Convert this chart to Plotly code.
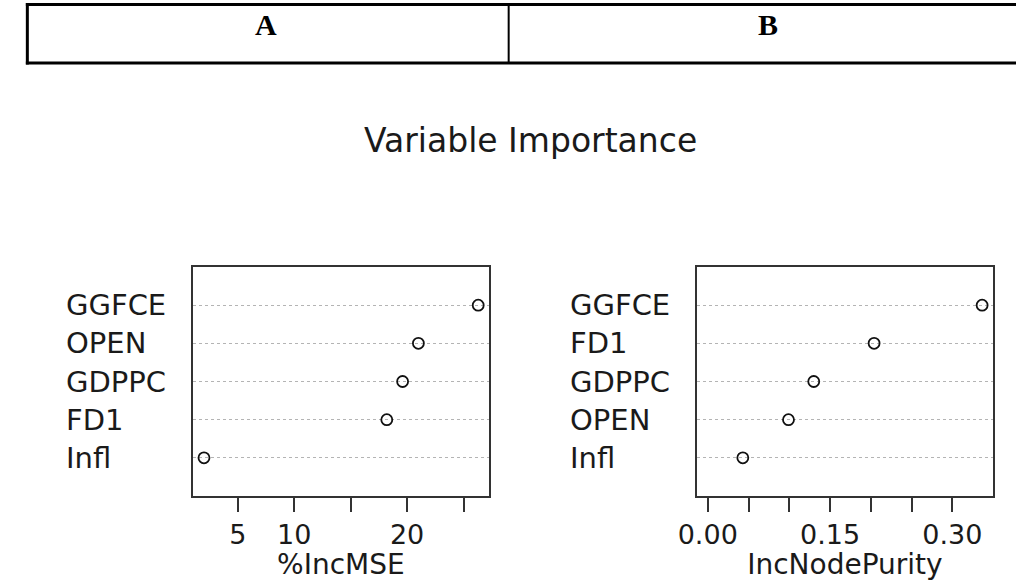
import plotly.graph_objects as go

# ---- data ----
vars_mse = ["Infl", "FD1", "GDPPC", "OPEN", "GGFCE"]
inc_mse = [2.0, 18.2, 19.6, 21.0, 26.3]
vars_purity = ["Infl", "OPEN", "GDPPC", "FD1", "GGFCE"]
inc_purity = [0.043, 0.099, 0.130, 0.204, 0.3365]
mse_ticks = [5, 10, 15, 20, 25]
mse_ticktext = ["5", "10", "", "20", ""]
pur_ticks = [0.00, 0.05, 0.10, 0.15, 0.20, 0.25, 0.30]
pur_ticktext = ["0.00", "", "", "0.15", "", "", "0.30"]
headers = ["A", "B"]

W, H = 1016, 581
def px(x):
    return x / W
def py(y):
    return 1 - y / H

FONT = "DejaVu Sans, Verdana, sans-serif"
TXT = "#1a1a1a"
fig = go.Figure()

rows = [1, 2, 3, 4, 5]
mk = dict(symbol="circle-open", size=11, color="#111", line=dict(width=1.8, color="#111"))
fig.add_trace(go.Scatter(x=inc_mse, y=rows, mode="markers", xaxis="x", yaxis="y",
                         marker=mk, showlegend=False, hoverinfo="skip"))
fig.add_trace(go.Scatter(x=inc_purity, y=rows, mode="markers", xaxis="x2", yaxis="y2",
                         marker=mk, showlegend=False, hoverinfo="skip"))

frame = dict(showline=True, mirror=True, linecolor="#333", linewidth=1.6, zeroline=False)
xtick = dict(ticks="outside", ticklen=14, tickwidth=1.6, tickcolor="#333",
             tickfont=dict(family=FONT, size=27, color=TXT))
ygrid = dict(range=[0, 6], tickmode="array", tickvals=rows, showticklabels=False, ticks="",
             showgrid=True, gridcolor="#b4b4b4", griddash="dot", gridwidth=1.2)

fig.update_layout(
    width=W, height=H, margin=dict(l=0, r=0, t=0, b=0),
    paper_bgcolor="white", plot_bgcolor="white",
    xaxis=dict(domain=[px(177), px(479)], range=[1.0, 27.26], tickmode="array",
               tickvals=mse_ticks, ticktext=mse_ticktext, showgrid=False, anchor="y",
               title=dict(text="%IncMSE", font=dict(family=FONT, size=28, color=TXT), standoff=0),
               **frame, **xtick),
    yaxis=dict(domain=[py(496), py(267)], anchor="x", **ygrid, **frame),
    xaxis2=dict(domain=[px(690.7), px(992.7)], range=[-0.01346, 0.3500], tickmode="array",
                tickvals=pur_ticks, ticktext=pur_ticktext, showgrid=False, anchor="y2",
                title=dict(text="IncNodePurity", font=dict(family=FONT, size=28, color=TXT), standoff=0),
                **frame, **xtick),
    yaxis2=dict(domain=[py(496), py(267)], anchor="x2", **ygrid, **frame),
)

# row labels (left aligned, as in R dotchart)
for name, r in zip(vars_mse, rows):
    fig.add_annotation(x=px(46), xref="paper", y=r, yref="y", text=name, showarrow=False,
                       xanchor="left", font=dict(family=FONT, size=29, color=TXT))
for name, r in zip(vars_purity, rows):
    fig.add_annotation(x=px(559.7), xref="paper", y=r, yref="y2", text=name, showarrow=False,
                       xanchor="left", font=dict(family=FONT, size=29, color=TXT))

# title
fig.add_annotation(x=px(521), y=py(141), xref="paper", yref="paper", text="Variable Importance",
                   showarrow=False, xanchor="center", yanchor="middle",
                   font=dict(family=FONT, size=33, color=TXT))

# header table
fig.add_shape(type="line", xref="paper", yref="paper", x0=px(7), x1=1.0, y0=py(4.5), y1=py(4.5),
              line=dict(color="black", width=3))
fig.add_shape(type="line", xref="paper", yref="paper", x0=px(7), x1=1.0, y0=py(63), y1=py(63),
              line=dict(color="black", width=3))
fig.add_shape(type="line", xref="paper", yref="paper", x0=px(8.5), x1=px(8.5), y0=py(3), y1=py(64.5),
              line=dict(color="black", width=3))
fig.add_shape(type="line", xref="paper", yref="paper", x0=px(499), x1=px(499), y0=py(4), y1=py(63),
              line=dict(color="black", width=2))
for t, cx in zip(headers, [252, 763]):
    fig.add_annotation(x=px(cx), y=py(24), xref="paper", yref="paper", text="<b>%s</b>" % t,
                       showarrow=False, xanchor="center", yanchor="middle",
                       font=dict(family="Liberation Serif, Times New Roman, serif", size=30, color="black"))

fig.write_html("out.html", config={"displayModeBar": False},
               post_script="document.body.style.margin='0';document.body.style.overflow='hidden';")
